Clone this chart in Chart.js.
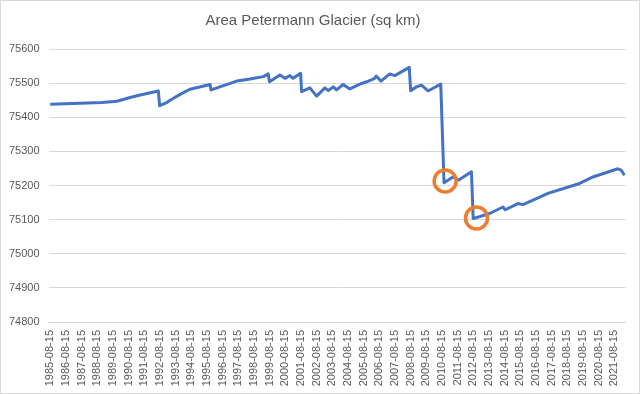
<!DOCTYPE html>
<html>
<head>
<meta charset="utf-8">
<title>Area Petermann Glacier</title>
<script src="https://cdn.jsdelivr.net/npm/chart.js@4/dist/chart.umd.min.js"></script>
<style>
  html, body { margin: 0; padding: 0; background: #ffffff; }
  #wrap { position: relative; width: 640px; height: 394px; }
</style>
</head>
<body>
<div id="wrap"><canvas id="glacierChart"></canvas></div>
<script>
// Area Petermann Glacier chart

// Years since 1985-08-15 for each vertex of the line
const yearsSince = [
  0, 1.9, 3.3, 4.25, 5.1, 5.74, 6.9, 6.98, 7.44, 7.65, 8.29, 8.92, 10.2, 10.26,
  11.9, 12.75, 13.6, 13.91, 13.99, 14.66, 14.98, 15.3, 15.5, 15.98, 16.04,
  16.57, 17.0, 17.53, 17.74, 18.06, 18.27, 18.69, 19.12, 19.87, 20.19, 20.71,
  20.8, 21.1, 21.67, 21.99, 22.91, 23.0, 23.37, 23.69, 24.11, 24.43, 24.92,
  25.13, 25.7, 26.07, 26.88, 26.99, 28.04, 28.89, 29.03, 29.85, 30.17, 31.76,
  33.78, 34.63, 36.22, 36.43, 36.65,
];

// Area in sq km at each vertex
const areaValues = [
  75438, 75441, 75443, 75447, 75458, 75465, 75477, 75434, 75443, 75450, 75467,
  75482, 75496, 75480, 75506, 75512, 75519, 75527, 75504, 75524, 75514, 75522,
  75514, 75529, 75475, 75486, 75462, 75486, 75478, 75489, 75480, 75496, 75483,
  75499, 75504, 75514, 75521, 75506, 75527, 75522, 75546, 75478, 75489, 75494,
  75477, 75485, 75497, 75208, 75225, 75216, 75240, 75103, 75118, 75137, 75129,
  75147, 75144, 75177, 75206, 75225, 75249, 75245, 75230,
];

// Orange circle markers (calving events)
const markerYears = [25.2, 27.2];
const markerValues = [75213, 75105];

// Axis ticks
const firstYear = 1985;
const yearTicks = Array.from({ length: 37 }, (_, i) => i);
const areaTicks = [74800, 74900, 75000, 75100, 75200, 75300, 75400, 75500, 75600];

const textColor = "#595959";
const gridColor = "#d9d9d9";
const tickFont = { family: "'Liberation Sans', Arial, sans-serif", size: 11 };

/**
 * Draw white background and the thin outer chart border
 */
const frame = {
  id: "frame",
  beforeDraw(chart) {
    const ctx = chart.ctx;
    ctx.save();
    ctx.fillStyle = "#ffffff";
    ctx.fillRect(0, 0, chart.width, chart.height);
    ctx.strokeStyle = gridColor;
    ctx.lineWidth = 1;
    ctx.strokeRect(0.5, 0.5, chart.width - 1, chart.height - 1);
    ctx.restore();
  },
};

const ctx = document.getElementById("glacierChart");
new Chart(ctx, {
  type: "line",
  data: {
    datasets: [
      {
        label: "Area",
        data: yearsSince.map((t, i) => ({ x: t, y: areaValues[i] })),
        borderColor: "#4472c4",
        borderWidth: 3,
        borderJoinStyle: "round",
        pointRadius: 0,
        tension: 0,
        order: 2,
      },
      {
        label: "Events",
        data: markerYears.map((t, i) => ({ x: t, y: markerValues[i] })),
        showLine: false,
        pointStyle: "circle",
        pointRadius: 11,
        pointBorderWidth: 3.5,
        pointBorderColor: "#ed7d31",
        pointBackgroundColor: "rgba(0,0,0,0)",
        order: 1,
      },
    ],
  },
  options: {
    responsive: true,
    maintainAspectRatio: false,
    animation: false,
    layout: { padding: { left: 0, right: 14, top: 0, bottom: 0 } },
    plugins: {
      legend: { display: false },
      tooltip: { enabled: false },
      title: {
        display: true,
        text: "Area Petermann Glacier (sq km)",
        color: textColor,
        font: { family: "'Liberation Sans', Arial, sans-serif", size: 15, weight: "normal", lineHeight: 1.2 },
        padding: { top: 12, bottom: 19 },
      },
    },
    scales: {
      x: {
        type: "linear",
        min: -0.11,
        max: 36.71,
        grid: { display: false, drawTicks: false },
        border: { display: true, color: gridColor },
        afterBuildTicks(scale) {
          scale.ticks = yearTicks.map((v) => ({ value: v }));
        },
        afterFit(scale) {
          scale.height = 394 - 322;
        },
        ticks: {
          autoSkip: false,
          maxRotation: 90,
          minRotation: 90,
          padding: 8,
          color: textColor,
          font: tickFont,
          callback: (v) => `${firstYear + v}-08-15`,
        },
      },
      y: {
        min: 74800,
        max: 75600,
        afterBuildTicks(scale) {
          scale.ticks = areaTicks.map((v) => ({ value: v }));
        },
        afterFit(scale) {
          scale.width = 48.5;
        },
        grid: { color: gridColor, drawTicks: false },
        border: { display: false },
        ticks: {
          padding: 9,
          color: textColor,
          font: tickFont,
          callback: (v) => String(v),
        },
      },
    },
  },
  plugins: [frame],
});
</script>
</body>
</html>
